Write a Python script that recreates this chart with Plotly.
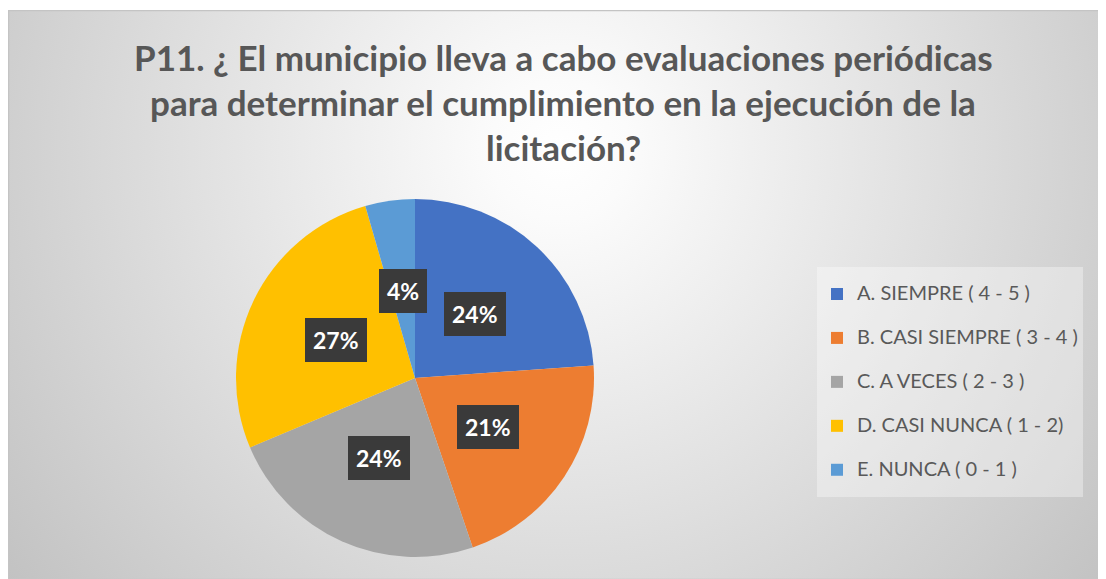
import base64
import math
import plotly.graph_objects as go

# ---- data ----
categories = [
    "A. SIEMPRE ( 4 - 5 )",
    "B. CASI SIEMPRE ( 3 - 4 )",
    "C. A VECES ( 2 - 3 )",
    "D. CASI NUNCA ( 1 - 2)",
    "E. NUNCA ( 0 - 1 )",
]
counts = [16, 14, 16, 18, 3]
colors = ["#4472C4", "#ED7D31", "#A5A5A5", "#FFC000", "#5B9BD5"]
title_lines = [
    "P11. ¿ El municipio lleva a cabo evaluaciones periódicas",
    "para determinar el cumplimiento en la ejecución de la",
    "licitación?",
]

# page has an 8px body margin, so the figure is sized to the visible area
W, H = 1098, 571
CX, CY, R = 407, 370, 179  # pie centre / radius in figure pixels
TOP = 2                    # chart box top in figure pixels

BW, BH = W, H - TOP
svg = (
    f'<svg xmlns="http://www.w3.org/2000/svg" width="{BW}" height="{BH}" '
    f'viewBox="0 0 {BW} {BH}" preserveAspectRatio="none">'
    '<defs><radialGradient id="g" gradientUnits="userSpaceOnUse" cx="552" cy="140" r="700">'
    '<stop offset="0" stop-color="#ffffff"/>'
    '<stop offset="0.1" stop-color="#fbfbfb"/>'
    '<stop offset="1" stop-color="#c2c2c2"/>'
    '</radialGradient></defs>'
    f'<rect x="0" y="0" width="{BW}" height="{BH}" fill="url(#g)"/>'
    f'<rect x="0.5" y="0.5" width="{BW}" height="{BH}" fill="none" stroke="#c4c4c4" stroke-width="1.5"/>'
    '</svg>'
)
svg_uri = "data:image/svg+xml;base64," + base64.b64encode(svg.encode()).decode()

legend_labels = [f'<span style="font-size:20px; baseline-shift:6px">{c}</span>' for c in categories]

fig = go.Figure()
fig.add_trace(go.Pie(
    labels=legend_labels,
    values=counts,
    marker=dict(colors=colors, line=dict(width=0)),
    sort=False,
    direction="clockwise",
    rotation=0,
    textinfo="none",
    hoverinfo="percent",
    domain=dict(x=[(CX - R) / W, (CX + R) / W], y=[(H - CY - R) / H, (H - CY + R) / H]),
))

# data label boxes, positioned from the slice angles
total = sum(counts)
annotations = []
cum = 0
for v in counts:
    mid = (cum + v / 2) / total * 2 * math.pi
    cum += v
    px = CX + 0.49 * R * math.sin(mid)
    py = CY - 0.49 * R * math.cos(mid)
    annotations.append(dict(
        x=px / W, y=1 - py / H, xref="paper", yref="paper",
        text=f"<b>{round(v / total * 100)}%</b>", showarrow=False,
        font=dict(family="Lato", size=23, color="#ffffff"),
        bgcolor="#3a3a3a", bordercolor="#3a3a3a", borderpad=7,
        xanchor="center", yanchor="middle",
    ))

for line, yc in zip(title_lines, [49, 94, 139]):
    annotations.append(dict(
        x=555 / W, y=1 - yc / H, xref="paper", yref="paper",
        text=f"<b>{line}</b>", showarrow=False,
        font=dict(family="Lato", size=35, color="#575757"),
        xanchor="center", yanchor="middle",
    ))

fig.update_layout(
    width=W, height=H,
    margin=dict(l=0, r=0, t=0, b=0),
    paper_bgcolor="#ffffff",
    images=[dict(source=svg_uri, xref="paper", yref="paper", x=0, y=1 - TOP / H,
                 sizex=1, sizey=1 - TOP / H, xanchor="left", yanchor="top",
                 sizing="stretch", layer="below")],
    showlegend=True,
    legend=dict(
        x=809 / W, y=1 - 259 / H, xanchor="left", yanchor="top",
        font=dict(family="Lato", size=31.5, color="#595959"),
        bgcolor="rgba(255,255,255,0.35)",
        itemclick=False,
    ),
    annotations=annotations,
)

fig.write_html("out.html")
